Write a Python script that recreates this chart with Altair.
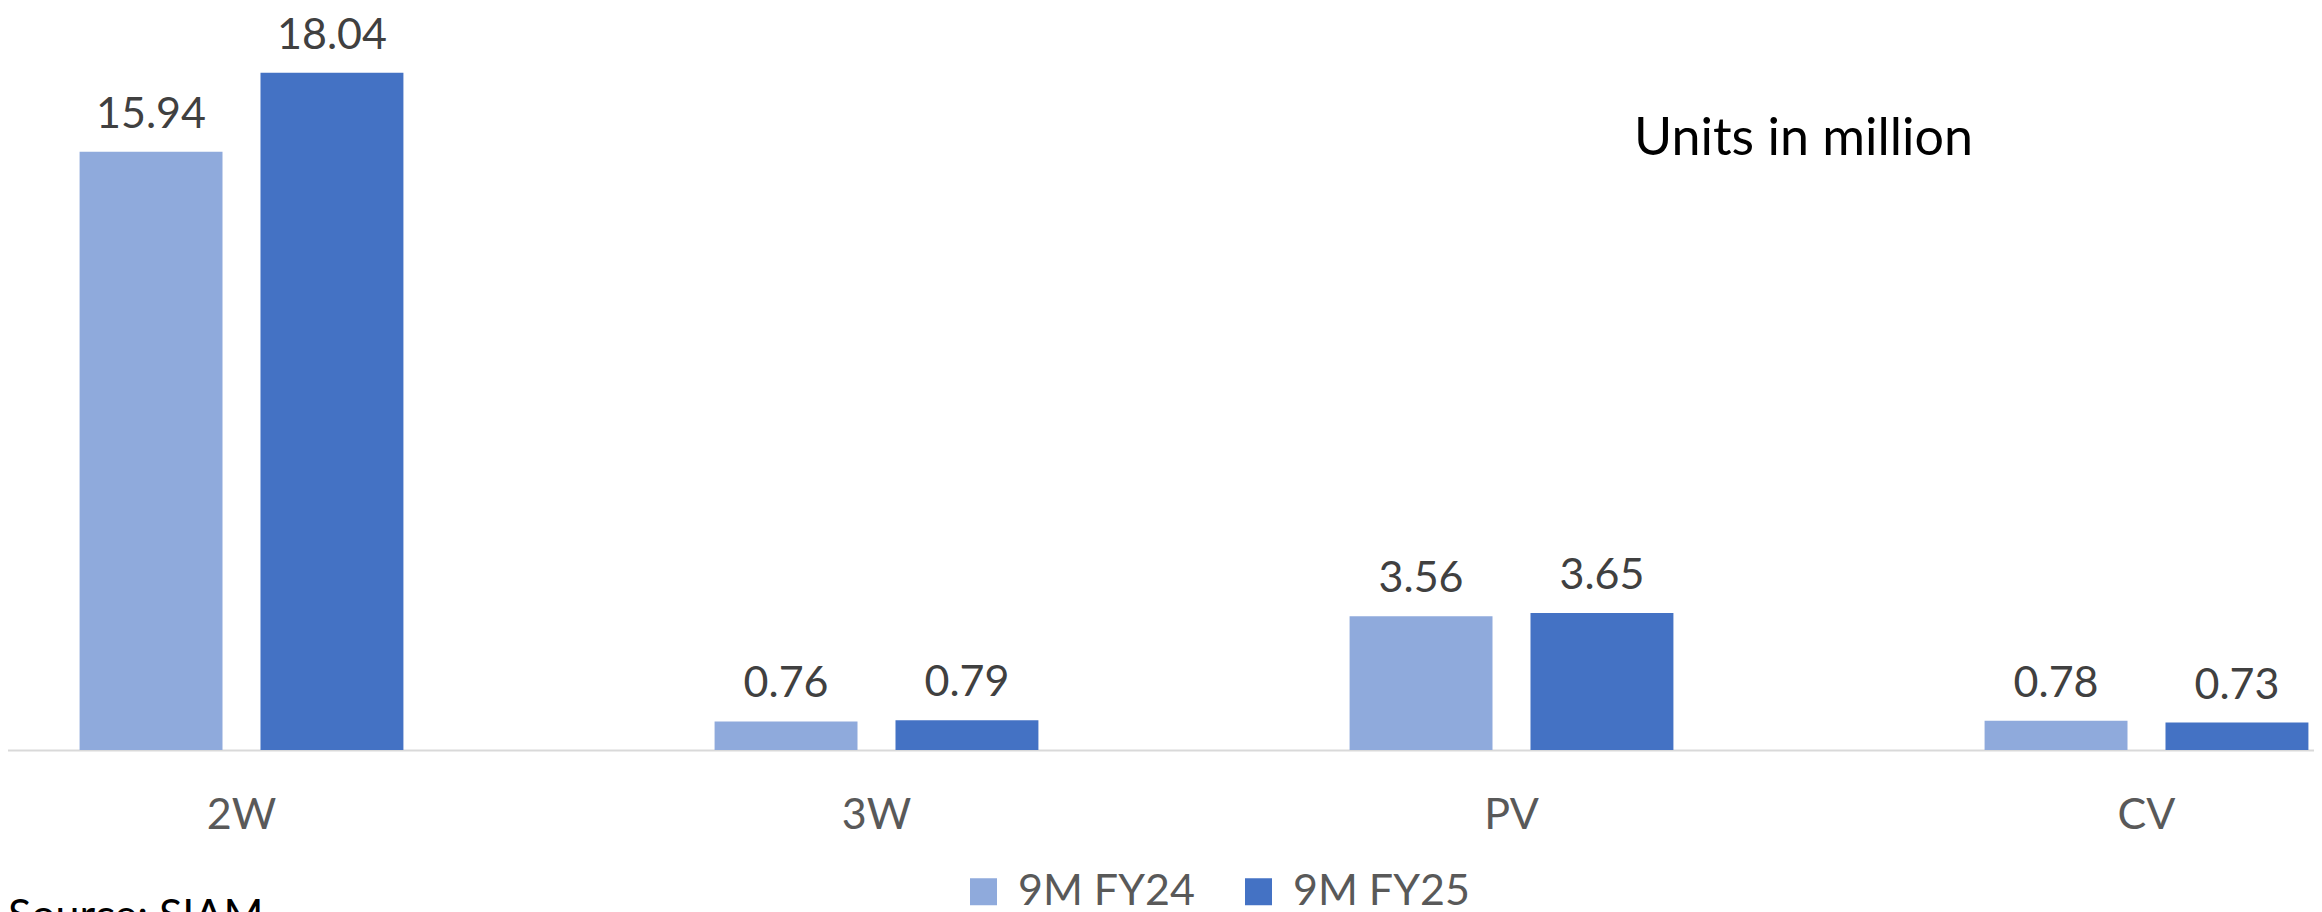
import altair as alt
import pandas as pd

categories = ["2W", "3W", "PV", "CV"]
series = ["9M FY24", "9M FY25"]
fy24 = [15.94, 0.76, 3.56, 0.78]
fy25 = [18.04, 0.79, 3.65, 0.73]
colors = ["#8FAADC", "#4472C4"]

rows = []
for c, a, b in zip(categories, fy24, fy25):
    rows.append({"category": c, "series": series[0], "value": a})
    rows.append({"category": c, "series": series[1], "value": b})
df = pd.DataFrame(rows)

FONT = "Lato"
W, H = 2306, 742

x = alt.X(
    "category:N", sort=categories, title=None,
    scale=alt.Scale(range=[-84, 2456], paddingInner=0, paddingOuter=0),
    axis=alt.Axis(labelAngle=0, labelFont=FONT, labelFontSize=43, labelColor="#595959",
                  ticks=False, tickSize=0, labelPadding=44, domainColor="#D9D9D9",
                  domainWidth=2, grid=False, labelBaseline="top"),
)
xo = alt.XOffset("series:N", sort=series, scale=alt.Scale(paddingInner=0.21, paddingOuter=0.86))
y = alt.Y("value:Q", scale=alt.Scale(domain=[0, 19.766], nice=False, zero=True), axis=None)
color = alt.Color(
    "series:N", sort=series, scale=alt.Scale(domain=series, range=colors),
    legend=alt.Legend(title=None, orient="none", legendX=954, legendY=862, direction="horizontal",
                      symbolType="square", symbolSize=729, symbolStrokeWidth=0,
                      labelFont=FONT, labelFontSize=43, labelColor="#595959", labelLimit=400,
                      labelOffset=13, columnPadding=42, padding=0),
)

bars = alt.Chart(df).mark_bar().encode(x=x, xOffset=xo, y=y, color=color)
labels = alt.Chart(df).mark_text(
    font=FONT, fontSize=43, color="#404040", baseline="alphabetic", dy=-24
).encode(x=x, xOffset=xo, y=y, text=alt.Text("value:Q", format=".2f"))

unit_df = pd.DataFrame({"t": ["Units in million"]})
unit = alt.Chart(unit_df).mark_text(
    font=FONT, fontSize=52, color="#000000", align="left", baseline="alphabetic"
).encode(x=alt.value(1626), y=alt.value(147), text="t:N")

src_df = pd.DataFrame({"t": ["Source: SIAM"]})
src = alt.Chart(src_df).mark_text(
    font=FONT, fontSize=43, color="#000000", align="left", baseline="alphabetic"
).encode(x=alt.value(0), y=alt.value(922), text="t:N")

chart = alt.layer(bars, labels, unit, src).properties(
    width=W, height=H,
    autosize=alt.AutoSizeParams(type="none"),
    padding={"left": 0, "top": 0, "right": 0, "bottom": 162},
).configure_view(stroke=None)

chart.save("out.html", embed_options={"renderer": "svg", "actions": False})
